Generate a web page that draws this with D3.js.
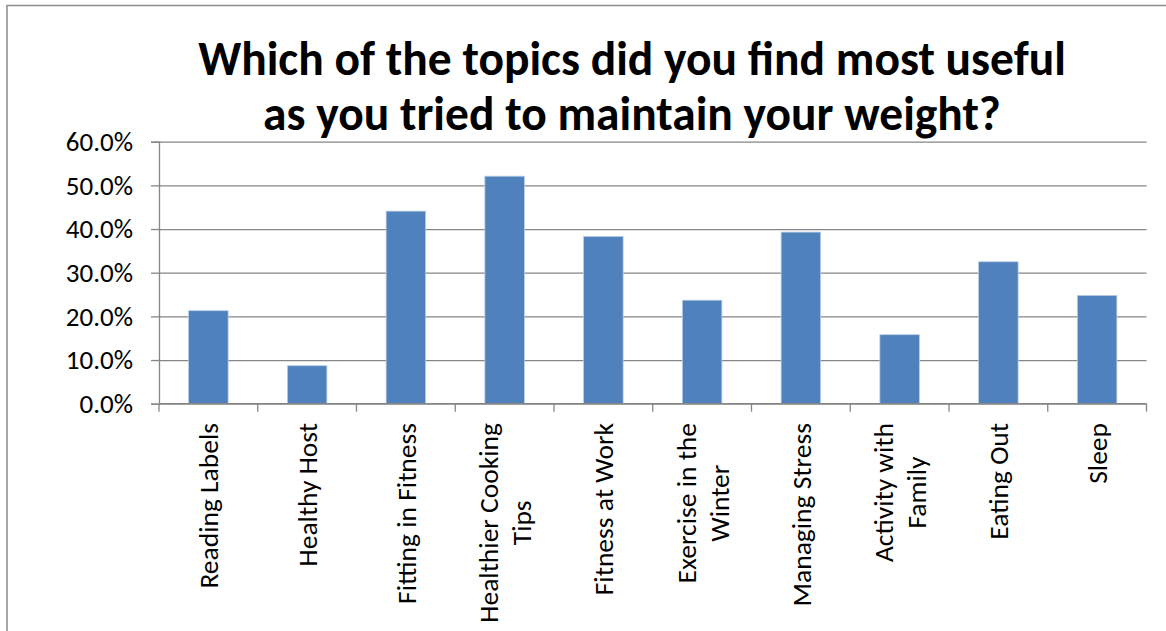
<!DOCTYPE html>
<html>
<head>
<meta charset="utf-8">
<script src="https://cdn.jsdelivr.net/npm/d3@7"></script>
<style>
  html, body { margin: 0; padding: 0; background: #fff; }
  svg { display: block; }
  text { font-family: Calibri, Carlito, Lato, "Open Sans", sans-serif; fill: #000; }
</style>
</head>
<body>
<svg id="chart" width="1166" height="631"></svg>
<script>
// Survey results: share of respondents who found each topic most useful
const categories = [
  "Reading Labels",
  "Healthy Host",
  "Fitting in Fitness",
  "Healthier Cooking\nTips",
  "Fitness at Work",
  "Exercise in the\nWinter",
  "Managing Stress",
  "Activity with\nFamily",
  "Eating Out",
  "Sleep"
];
const values = [0.213, 0.087, 0.441, 0.521, 0.383, 0.237, 0.393, 0.158, 0.325, 0.248];
const yTicks = [0, 0.1, 0.2, 0.3, 0.4, 0.5, 0.6];
const titleLines = [
  "Which of the topics did you find most useful",
  "as you tried to maintain your weight?"
];

const svg = d3.select("#chart");
const axisColor = "#868686";
const fontStack = "Calibri, Carlito, Lato, 'Open Sans', sans-serif";

// outer chart border
svg.append("rect")
  .attr("x", 7).attr("y", 5.5)
  .attr("width", 1300).attr("height", 800)
  .attr("fill", "none")
  .attr("stroke", "#8c8c8c")
  .attr("stroke-width", 1.5);

const plot = { left: 159, right: 1146.5, top: 141.7, bottom: 403.7 };

const x = d3.scaleBand()
  .domain(categories)
  .range([plot.left, plot.right])
  .paddingInner(0.6)
  .paddingOuter(0.3);

const y = d3.scaleLinear()
  .domain([0, 0.6])
  .range([plot.bottom, plot.top]);

// horizontal gridlines
const grid = svg.append("g").attr("transform", `translate(${plot.left},0)`)
  .call(d3.axisLeft(y).tickValues(yTicks).tickSize(-(plot.right - plot.left)).tickFormat(""));
grid.select(".domain").remove();
grid.selectAll("line").attr("stroke", axisColor).attr("stroke-width", 1.3);

// value axis with outward tick marks
const yAxis = svg.append("g").attr("transform", `translate(${plot.left},0)`)
  .call(d3.axisLeft(y).tickValues(yTicks).tickSize(8).tickPadding(18).tickFormat(d3.format(".1%")));
yAxis.select(".domain").attr("stroke", axisColor).attr("stroke-width", 1.3);
yAxis.selectAll("line").attr("stroke", axisColor).attr("stroke-width", 1.3);
yAxis.selectAll("text")
  .style("font-family", fontStack)
  .attr("font-size", 27).attr("fill", "#000");

// bars
svg.append("g").selectAll("rect")
  .data(values)
  .join("rect")
  .attr("x", (d, i) => x(categories[i]))
  .attr("y", d => y(d))
  .attr("width", x.bandwidth())
  .attr("height", d => y(0) - y(d))
  .attr("fill", "#4f81bd")
  .attr("stroke", "#b9cde5")
  .attr("stroke-width", 0.8);

// category axis: baseline plus boundary ticks
const step = x.step();
const xAxis = svg.append("g");
xAxis.append("line")
  .attr("x1", plot.left).attr("x2", plot.right)
  .attr("y1", y(0)).attr("y2", y(0))
  .attr("stroke", axisColor).attr("stroke-width", 1.3);
xAxis.selectAll("line.tick")
  .data(d3.range(categories.length + 1))
  .join("line")
  .attr("class", "tick")
  .attr("x1", i => plot.left + i * step).attr("x2", i => plot.left + i * step)
  .attr("y1", y(0)).attr("y2", y(0) + 8)
  .attr("stroke", axisColor).attr("stroke-width", 1.3);

// rotated category labels, lines centred on each other, block starting just below the axis
const labelSize = 27.5;
const lineGap = 33;
const labels = svg.append("g").selectAll("g")
  .data(categories)
  .join("g");
labels.each(function(cat) {
  const lines = cat.split("\n");
  const cx = x(cat) + x.bandwidth() / 2;
  const g = d3.select(this)
    .attr("transform", `translate(${cx - (lines.length - 1) * lineGap / 2 + 10},423) rotate(-90)`);
  const texts = g.selectAll("text")
    .data(lines)
    .join("text")
    .attr("font-size", labelSize)
    .attr("text-anchor", "middle")
    .attr("y", (d, i) => i * lineGap)
    .text(d => d);
  let maxLen = 0;
  texts.each(function() { maxLen = Math.max(maxLen, this.getComputedTextLength()); });
  texts.attr("x", -maxLen / 2);
});

// title
svg.append("g").selectAll("text")
  .data(titleLines)
  .join("text")
  .attr("x", 632)
  .attr("y", (d, i) => 75 + i * 55)
  .attr("text-anchor", "middle")
  .attr("font-size", 47.5)
  .attr("font-weight", "bold")
  .text(d => d);
</script>
</body>
</html>
